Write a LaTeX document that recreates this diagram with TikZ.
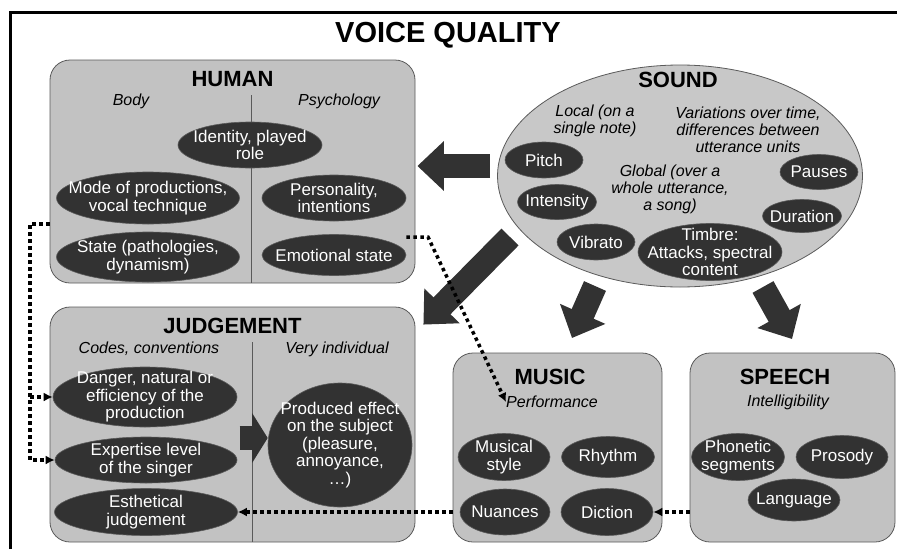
\documentclass[tikz,border=0pt]{standalone}
\usepackage{fontspec}
\setmainfont{Liberation Sans}
\usetikzlibrary{shapes.geometric,arrows.meta,positioning}

\definecolor{panelgray}{HTML}{C2C2C2}
\definecolor{soundgray}{HTML}{C8C8C8}
\definecolor{itemdark}{HTML}{323232}
\definecolor{edgegray}{HTML}{5A5A5A}

\begin{document}
\begin{tikzpicture}[x=1pt,y=-1pt,
  panel/.style={draw=edgegray,fill=panelgray,line width=0.8pt,rounded corners=20pt,inner sep=0pt},
  item/.style={ellipse,draw=edgegray,fill=itemdark,inner sep=0pt,line width=0.6pt},
  itemtext/.style={text=white,align=center,inner sep=0pt,font=\fontsize{17}{17.5}\selectfont},
  heading/.style={font=\bfseries\fontsize{22}{24}\selectfont,inner sep=0pt},
  subhead/.style={font=\itshape\fontsize{16}{17}\selectfont,align=center,inner sep=0pt},
  divider/.style={draw=edgegray,line width=0.8pt},
  bigarrow/.style={draw=itemdark,line width=24pt,-{Triangle[length=0pt 1.1,width=0pt 2]}},
  smallarrow/.style={draw=itemdark,line width=24pt,-{Triangle[length=0pt 0.65,width=0pt 2.05]}},
  dotline/.style={line width=3.5pt,dash pattern=on 3.5pt off 3.5pt,-{Latex[length=9pt,width=9pt]}}]
\useasboundingbox (0,0) rectangle (897,549);
% frame and title
\draw[line width=3pt] (10,549) -- (10,12) -- (897,12);
\node[font=\bfseries\fontsize{29}{30}\selectfont] (title) at (448,35) {VOICE QUALITY};

% panels
\node[panel,minimum width=365pt,minimum height=223pt] (human) at (232.5,171.5) {};
\node[panel,minimum width=365pt,minimum height=235pt] (judgement) at (232.5,424.5) {};
\node[panel,minimum width=209pt,minimum height=189pt] (music) at (557.5,447.5) {};
\node[panel,minimum width=205pt,minimum height=189pt] (speech) at (792.5,447.5) {};
\node[ellipse,draw=edgegray,fill=soundgray,line width=0.8pt,minimum width=365pt,minimum height=222pt] (sound) at (680,176) {};

\coordinate (hdiv) at (251,95);
\coordinate (jdiv) at (252,342);
\draw[divider] (hdiv) -- (hdiv |- human.south);
\draw[divider] (jdiv) -- (jdiv |- judgement.south);

% headings
\node[heading,below=12pt of human.north] {HUMAN};
\node[heading] at (678,80) {SOUND};
\node[heading,below=11pt of judgement.north] {JUDGEMENT};
\node[heading] at (550,377) {MUSIC};
\node[heading] at (785,377) {SPEECH};

\node[subhead] (body) at (131,101) {Body};
\node[subhead] (psycho) at (339,101) {Psychology};
\node[subhead] (codes) at (149,349) {Codes, conventions};
\node[subhead] (indiv) at (337,349) {Very individual};
\node[subhead] (perf) at (552,402) {Performance};
\node[subhead] (intel) at (788,402) {Intelligibility};
\node[subhead] (local) at (595,121) {Local (on a\\single note)};
\node[subhead] (variations) at (748,130) {Variations over time,\\differences between\\utterance units};
\node[subhead] (global) at (670,189) {Global (over a\\whole utterance,\\a song)};

% human
\node[item,minimum width=144pt,minimum height=46pt,label={[itemtext]center:{Identity, played\\role}}] (identity) at (250,145) {};
\node[item,minimum width=183pt,minimum height=52pt,label={[itemtext]center:{Mode of productions,\\vocal technique}}] (mode) at (148,198) {};
\node[item,minimum width=144pt,minimum height=46pt,label={[itemtext]center:{Personality,\\intentions}}] (personality) at (334,198) {};
\node[item,minimum width=183pt,minimum height=50pt,label={[itemtext]center:{State (pathologies,\\dynamism)}}] (state) at (148,257) {};
\node[item,minimum width=144pt,minimum height=41pt,label={[itemtext]center:{Emotional state}}] (emotional) at (334,255) {};

% sound
\node[item,minimum width=78pt,minimum height=36pt,label={[itemtext]center:Pitch}] (pitch) at (544,160) {};
\node[item,minimum width=79pt,minimum height=35pt,label={[itemtext]center:Intensity}] (intensity) at (557,202) {};
\node[item,minimum width=78pt,minimum height=36pt,label={[itemtext]center:Vibrato}] (vibrato) at (596,242) {};
\node[item,minimum width=144pt,minimum height=57pt,label={[itemtext]center:{Timbre:\\Attacks, spectral\\content}}] (timbre) at (710,252) {};
\node[item,minimum width=78pt,minimum height=35pt,label={[itemtext]center:Pauses}] (pauses) at (819,172) {};
\node[item,minimum width=79pt,minimum height=33pt,label={[itemtext]center:Duration}] (duration) at (802,216) {};

% judgement
\node[item,minimum width=184pt,minimum height=60pt,label={[itemtext]center:{Danger, natural or\\efficiency of the\\production}}] (danger) at (145,397) {};
\node[item,minimum width=182pt,minimum height=46pt,label={[itemtext]center:{Expertise level\\of the singer}}] (expertise) at (146,460) {};
\node[item,minimum width=183pt,minimum height=47pt,label={[itemtext]center:{Esthetical\\judgement}}] (esthetical) at (146,512) {};
\node[item,minimum width=144pt,minimum height=124pt,label={[itemtext]center:{Produced effect\\on the subject\\(pleasure,\\annoyance,\\\dots)}}] (effect) at (340,445) {};

% music and speech
\node[item,minimum width=92pt,minimum height=47pt,label={[itemtext]center:{Musical\\style}}] (musical) at (504,457) {};
\node[item,minimum width=93pt,minimum height=41pt,label={[itemtext]center:Rhythm}] (rhythm) at (608,457) {};
\node[item,minimum width=90pt,minimum height=46pt,label={[itemtext]center:Nuances}] (nuances) at (505,512) {};
\node[item,minimum width=92pt,minimum height=47pt,label={[itemtext]center:Diction}] (diction) at (607,512) {};
\node[item,minimum width=93pt,minimum height=47pt,label={[itemtext]center:{Phonetic\\segments}}] (phonetic) at (738,457) {};
\node[item,minimum width=92pt,minimum height=43pt,label={[itemtext]center:Prosody}] (prosody) at (842,457) {};
\node[item,minimum width=92pt,minimum height=42pt,label={[itemtext]center:Language}] (language) at (794,500) {};

% block arrows
\coordinate (toHuman) at (490,166);
\coordinate (toJudge) at (510,237);
\coordinate (toMusic) at (595,286);
\coordinate (toSpeech) at (763,287);
\coordinate (musicTip) at (572,338);
\coordinate (speechTip) at (792,339);
\draw[bigarrow] (toHuman) -- ([shift={(2,-5.5)}]human.east);
\draw[bigarrow] (toJudge) -- ([shift={(8,18)}]judgement.north east);
\draw[bigarrow] (toMusic) -- (musicTip);
\draw[bigarrow] (toSpeech) -- (speechTip);
\draw[smallarrow] ([shift={(-28,-7)}]effect.west) -- ([shift={(0,-7)}]effect.west);

% dotted links
\coordinate (hleft) at ([shift={(0,52.5)}]human.west);
\coordinate (vline) at (30,224);
\coordinate (bend) at (428,237);
\draw[dotline] (hleft) -- (vline) |- (expertise.west);
\draw[dotline] (vline |- danger.west) -- (danger.west);
\draw[dotline] ([shift={(0,-18)}]emotional.east) -- (bend) -- (perf.west);
\draw[dotline] (speech.west |- diction.east) -- (diction.east);
\draw[dotline] (music.west |- esthetical.east) -- (esthetical.east);
\end{tikzpicture}
\end{document}
